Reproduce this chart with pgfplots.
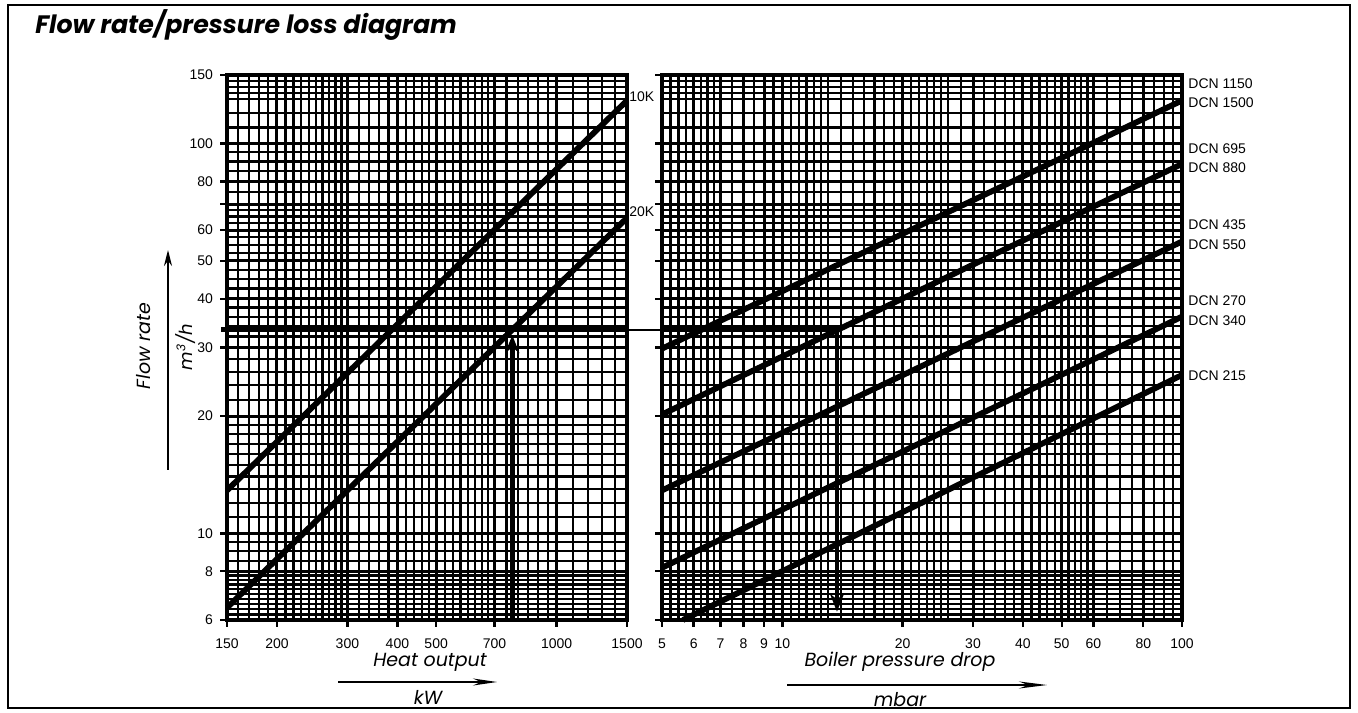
\documentclass[border=0pt]{standalone}
\usepackage{pgfplots}
\pgfplotsset{compat=1.18}
\usepackage{fontspec}
\setmainfont{Liberation Sans}
\newfontfamily\geo{Poppins}
\usetikzlibrary{arrows.meta}

\begin{document}
\begin{tikzpicture}
\path[use as bounding box] (0pt,0pt) rectangle (679pt,356pt);
\draw[line width=0.8pt] (4pt,2pt) rectangle (675pt,353.5pt);
\node[anchor=base west, inner sep=0, font=\geo\bfseries\itshape\fontsize{12.6}{14}\selectfont] at (17.5pt,339pt) {Flow rate/pressure loss diagram};

\draw[line width=1pt, -{Stealth[length=8pt,width=4pt]}] (84pt,121pt) -- (84pt,231pt);
\node[rotate=90, font=\geo\itshape\fontsize{9.5}{11}\selectfont] at (72pt,183pt) {Flow rate};
\node[rotate=90, font=\geo\itshape\fontsize{9}{11}\selectfont] at (93pt,182.5pt) {m\textsuperscript{3}/h};

\node[font=\geo\itshape\fontsize{9.5}{11}\selectfont] at (215pt,25pt) {Heat output};
\draw[line width=0.8pt, -{Stealth[length=12pt,width=3.5pt]}] (169pt,15pt) -- (248.5pt,15pt);
\node[font=\geo\itshape\fontsize{9.5}{11}\selectfont] at (214pt,7.5pt) {kW};

\node[font=\geo\itshape\fontsize{9.5}{11}\selectfont] at (450pt,25pt) {Boiler pressure drop};
\draw[line width=0.8pt, -{Stealth[length=14pt,width=3.5pt]}] (393.5pt,13.5pt) -- (523.5pt,13.5pt);
\node[font=\geo\itshape\fontsize{9.5}{11}\selectfont] at (450pt,6pt) {mbar};

\begin{axis}[
  at={(113.5pt,46pt)}, anchor=south west,
  scale only axis, width=200pt, height=272.5pt,
  xmode=log, ymode=log, ymin=6, ymax=150, xmin=150, xmax=1500,
  grid=both,
  major grid style={black, line width=1.5pt},
  minor grid style={black, line width=1.1pt},
  axis line style={line width=1.6pt},
  tick align=outside, major tick length=3.5pt, minor tick length=0pt,
  tick style={black, line width=1.2pt}, tick pos=left,
  ytick={6,8,10,20,30,40,50,60,70,80,100,150},
  yticklabels={6,8,10,20,30,40,50,60,{},80,100,150},
  minor ytick={6.2,6.4,6.6,6.8,7,7.2,7.4,7.6,7.8,8.5,9,9.5,11,12,13,14,15,16,17,18,19,22,24,26,28,32,34,36,38,42.5,45,47.5,52.5,55,57.5,62.5,65,67.5,75,85,90,95,110,120,130,135,140,145},
  xtick={150,200,300,400,500,700,1000,1500},
  xticklabels={150,200,300,400,500,700,1000,1500},
  minor xtick={160,170,180,190,210,220,230,240,250,260,270,280,290,320,340,360,380,420,440,460,480,525,550,575,600,625,650,675,750,800,850,900,950,1100,1200,1300,1400},
  ticklabel style={font=\fontsize{7}{8}\selectfont},
  xticklabel style={yshift=-2.5pt},
  clip=false,
]
\addplot[line width=2.9pt] coordinates {(150,12.9) (1500,129)};
\addplot[line width=2.9pt] coordinates {(150,6.45) (1500,64.5)};
\addplot[line width=2.6pt] coordinates {(145,33.3) (1500,33.3)};
\addplot[line width=2.4pt, -{Stealth[length=9pt,width=7pt]}] coordinates {(775,6) (775,32.3)};
\node[anchor=west, inner sep=1pt, font=\fontsize{7}{8}\selectfont] at (axis cs:1500,132) {10K};
\node[anchor=west, inner sep=1pt, font=\fontsize{7}{8}\selectfont] at (axis cs:1500,66.8) {20K};
\end{axis}

\begin{axis}[
  at={(331pt,46pt)}, anchor=south west,
  scale only axis, width=260pt, height=272.5pt,
  xmode=log, ymode=log, ymin=6, ymax=150, xmin=5, xmax=100,
  grid=both,
  major grid style={black, line width=1.5pt},
  minor grid style={black, line width=1.1pt},
  axis line style={line width=1.6pt},
  tick align=outside, major tick length=3.5pt, minor tick length=0pt,
  tick style={black, line width=1.2pt}, tick pos=left,
  ytick={6,8,10,20,30,40,50,60,70,80,100,150},
  yticklabels={},
  minor ytick={6.2,6.4,6.6,6.8,7,7.2,7.4,7.6,7.8,8.5,9,9.5,11,12,13,14,15,16,17,18,19,22,24,26,28,32,34,36,38,42.5,45,47.5,52.5,55,57.5,62.5,65,67.5,75,85,90,95,110,120,130,135,140,145},
  xtick={5,6,7,8,9,10,20,30,40,50,60,80,100},
  xticklabels={5,6,7,8,9,10,20,30,40,50,60,80,100},
  minor xtick={5.25,5.5,5.75,6.25,6.5,6.75,7.5,8.5,9.5,10.5,11,11.5,12,12.5,13,14,15,16,17,18,19,21,22,23,24,25,26,28,32,34,36,38,42,44,46,48,52,54,56,58,65,70,75,85,90,95},
  ticklabel style={font=\fontsize{7}{8}\selectfont},
  xticklabel style={yshift=-2.5pt},
  clip=false,
]
\addplot[line width=2.9pt] coordinates {(5,29.8) (100,129)};
\addplot[line width=2.9pt] coordinates {(5,20.2) (100,88.7)};
\addplot[line width=2.9pt] coordinates {(5,12.9) (100,56.1)};
\addplot[line width=2.9pt] coordinates {(5,8.17) (100,36.0)};
\addplot[line width=2.9pt] coordinates {(5.64,6) (100,25.5)};
\addplot[line width=2.6pt] coordinates {(5,33.3) (13.7,33.3)};
\addplot[line width=2pt, -{Stealth[length=9pt,width=7pt]}] coordinates {(13.7,33.3) (13.7,6.3)};
\draw[line width=0.9pt] (axis cs:5,33.3) -- ++(-17.5pt,0pt);
\node[anchor=west, inner sep=0pt, xshift=3pt, font=\fontsize{7}{8}\selectfont] at (axis cs:100,142.3) {DCN 1150};
\node[anchor=west, inner sep=0pt, xshift=3pt, font=\fontsize{7}{8}\selectfont] at (axis cs:100,127.2) {DCN 1500};
\node[anchor=west, inner sep=0pt, xshift=3pt, font=\fontsize{7}{8}\selectfont] at (axis cs:100,96.9) {DCN 695};
\node[anchor=west, inner sep=0pt, xshift=3pt, font=\fontsize{7}{8}\selectfont] at (axis cs:100,86.6) {DCN 880};
\node[anchor=west, inner sep=0pt, xshift=3pt, font=\fontsize{7}{8}\selectfont] at (axis cs:100,61.8) {DCN 435};
\node[anchor=west, inner sep=0pt, xshift=3pt, font=\fontsize{7}{8}\selectfont] at (axis cs:100,55.1) {DCN 550};
\node[anchor=west, inner sep=0pt, xshift=3pt, font=\fontsize{7}{8}\selectfont] at (axis cs:100,39.5) {DCN 270};
\node[anchor=west, inner sep=0pt, xshift=3pt, font=\fontsize{7}{8}\selectfont] at (axis cs:100,35.1) {DCN 340};
\node[anchor=west, inner sep=0pt, xshift=3pt, font=\fontsize{7}{8}\selectfont] at (axis cs:100,25.4) {DCN 215};
\end{axis}
\end{tikzpicture}
\end{document}
